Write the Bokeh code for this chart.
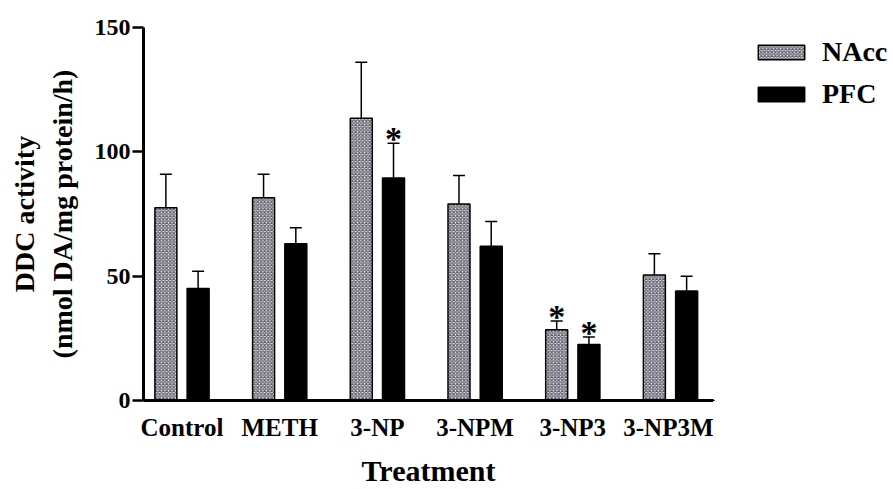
from bokeh.plotting import figure
from bokeh.layouts import row
from bokeh.models import (ColumnDataSource, Range1d, FixedTicker, Whisker, TeeHead,
                          Legend, LegendItem)
from bokeh.core.properties import value
from bokeh.embed import file_html
from bokeh.resources import INLINE

treatments = ["Control", "METH", "3-NP", "3-NPM", "3-NP3", "3-NP3M"]
nacc_mean = [77.5, 81.5, 113.5, 79.0, 28.5, 50.5]
nacc_err = [13.5, 9.5, 22.5, 11.5, 3.5, 8.5]
pfc_mean = [45.0, 63.0, 89.5, 62.0, 22.5, 44.0]
pfc_err = [7.0, 6.5, 14.0, 10.0, 3.0, 6.0]
nacc_sig = [False, False, False, False, True, False]
pfc_sig = [False, False, True, False, True, False]
y_ticks = [0, 50, 100, 150]
series_names = ["NAcc", "PFC"]

FONT = "Liberation Serif"
offset = 0.165
bw = 0.225

NACC_STYLE = dict(fill_color="#e4e4ea", hatch_pattern="diagonal_cross", hatch_scale=3.5,
                  hatch_weight=1.1, hatch_color="#5a5a66", line_color="black", line_width=1.5)
PFC_STYLE = dict(fill_color="black", line_color="black", line_width=1.5)

xs = list(range(len(treatments)))
nacc_x = [x - offset for x in xs]
pfc_x = [x + offset for x in xs]

src_n = ColumnDataSource(dict(x=nacc_x, top=nacc_mean,
                              upper=[m + e for m, e in zip(nacc_mean, nacc_err)]))
src_p = ColumnDataSource(dict(x=pfc_x, top=pfc_mean,
                              upper=[m + e for m, e in zip(pfc_mean, pfc_err)]))

p = figure(width=713, height=489, output_backend="svg", toolbar_location=None,
           x_range=Range1d(-0.394, 5.44), y_range=Range1d(0, 150),
           min_border_left=143, min_border_right=0, min_border_top=27,
           min_border_bottom=81)
p.outline_line_color = None
p.xgrid.visible = False
p.ygrid.visible = False

p.vbar(x="x", top="top", width=bw, source=src_n, **NACC_STYLE)
p.vbar(x="x", top="top", width=bw, source=src_p, **PFC_STYLE)

for src in (src_n, src_p):
    w = Whisker(base="x", lower="top", upper="upper", source=src,
                line_color="black", line_width=1.5,
                upper_head=TeeHead(size=12, line_width=1.5, line_color="black"),
                lower_head=None, level="underlay")
    p.add_layout(w)

# significance asterisks
sx, sy = [], []
for i in xs:
    if nacc_sig[i]:
        sx.append(nacc_x[i]); sy.append(nacc_mean[i] + nacc_err[i])
    if pfc_sig[i]:
        sx.append(pfc_x[i]); sy.append(pfc_mean[i] + pfc_err[i])
p.text(x=sx, y=sy, text=["*"] * len(sx), text_align="center", text_baseline="bottom",
       y_offset=14, text_font=value(FONT), text_font_size="34px", text_font_style="bold",
       text_color="black")

# axes
p.yaxis.ticker = FixedTicker(ticks=y_ticks)
p.yaxis.minor_tick_line_color = None
p.yaxis.major_tick_in = 0
p.yaxis.major_tick_out = 11
p.yaxis.major_tick_line_width = 2.5
p.yaxis.axis_line_width = 3
p.yaxis.major_label_standoff = 2
p.yaxis.major_label_text_font = FONT
p.yaxis.major_label_text_font_style = "bold"
p.yaxis.major_label_text_font_size = "24px"
p.yaxis.major_label_text_color = "black"
p.yaxis.axis_label = "DDC activity\n(nmol DA/mg protein/h)"
p.yaxis.axis_label_text_font = FONT
p.yaxis.axis_label_text_font_style = "bold"
p.yaxis.axis_label_text_font_size = "28px"
p.yaxis.axis_label_text_color = "black"
p.yaxis.axis_label_standoff = 14

p.xaxis.ticker = FixedTicker(ticks=xs)
p.xaxis.major_label_overrides = {i: t for i, t in zip(xs, treatments)}
p.xaxis.minor_tick_line_color = None
p.xaxis.major_tick_line_color = None
p.xaxis.axis_line_width = 3
p.xaxis.major_label_standoff = 7
p.xaxis.major_label_text_font = FONT
p.xaxis.major_label_text_font_style = "bold"
p.xaxis.major_label_text_font_size = "25px"
p.xaxis.major_label_text_color = "black"
p.xaxis.axis_label = "Treatment"
p.xaxis.axis_label_text_font = FONT
p.xaxis.axis_label_text_font_style = "bold"
p.xaxis.axis_label_text_font_size = "30px"
p.xaxis.axis_label_text_color = "black"
p.xaxis.axis_label_standoff = 10

# legend panel (its bar renderers share the data but lie far outside this panel's view)
lp = figure(width=180, height=489, output_backend="svg", toolbar_location=None,
            x_axis_type=None, y_axis_type=None, x_range=Range1d(100, 101),
            y_range=Range1d(1000, 1001), min_border=0)
lp.outline_line_color = None
lp.xgrid.visible = False
lp.ygrid.visible = False
ln = lp.vbar(x="x", top="top", width=bw, source=src_n, **NACC_STYLE)
lpf = lp.vbar(x="x", top="top", width=bw, source=src_p, **PFC_STYLE)

legend = Legend(items=[LegendItem(label=series_names[0], renderers=[ln]),
                       LegendItem(label=series_names[1], renderers=[lpf])],
                location=(39, 290), orientation="vertical")
legend.glyph_width = 58
legend.glyph_height = 18
legend.label_height = 18
legend.spacing = 10
legend.padding = 0
legend.margin = 0
legend.label_standoff = 12
legend.label_text_font = FONT
legend.label_text_font_style = "bold"
legend.label_text_font_size = "28px"
legend.label_text_color = "black"
legend.border_line_color = None
legend.background_fill_alpha = 0
lp.add_layout(legend)

layout = row(p, lp, spacing=0)
open("out.html", "w").write(file_html(layout, INLINE))
